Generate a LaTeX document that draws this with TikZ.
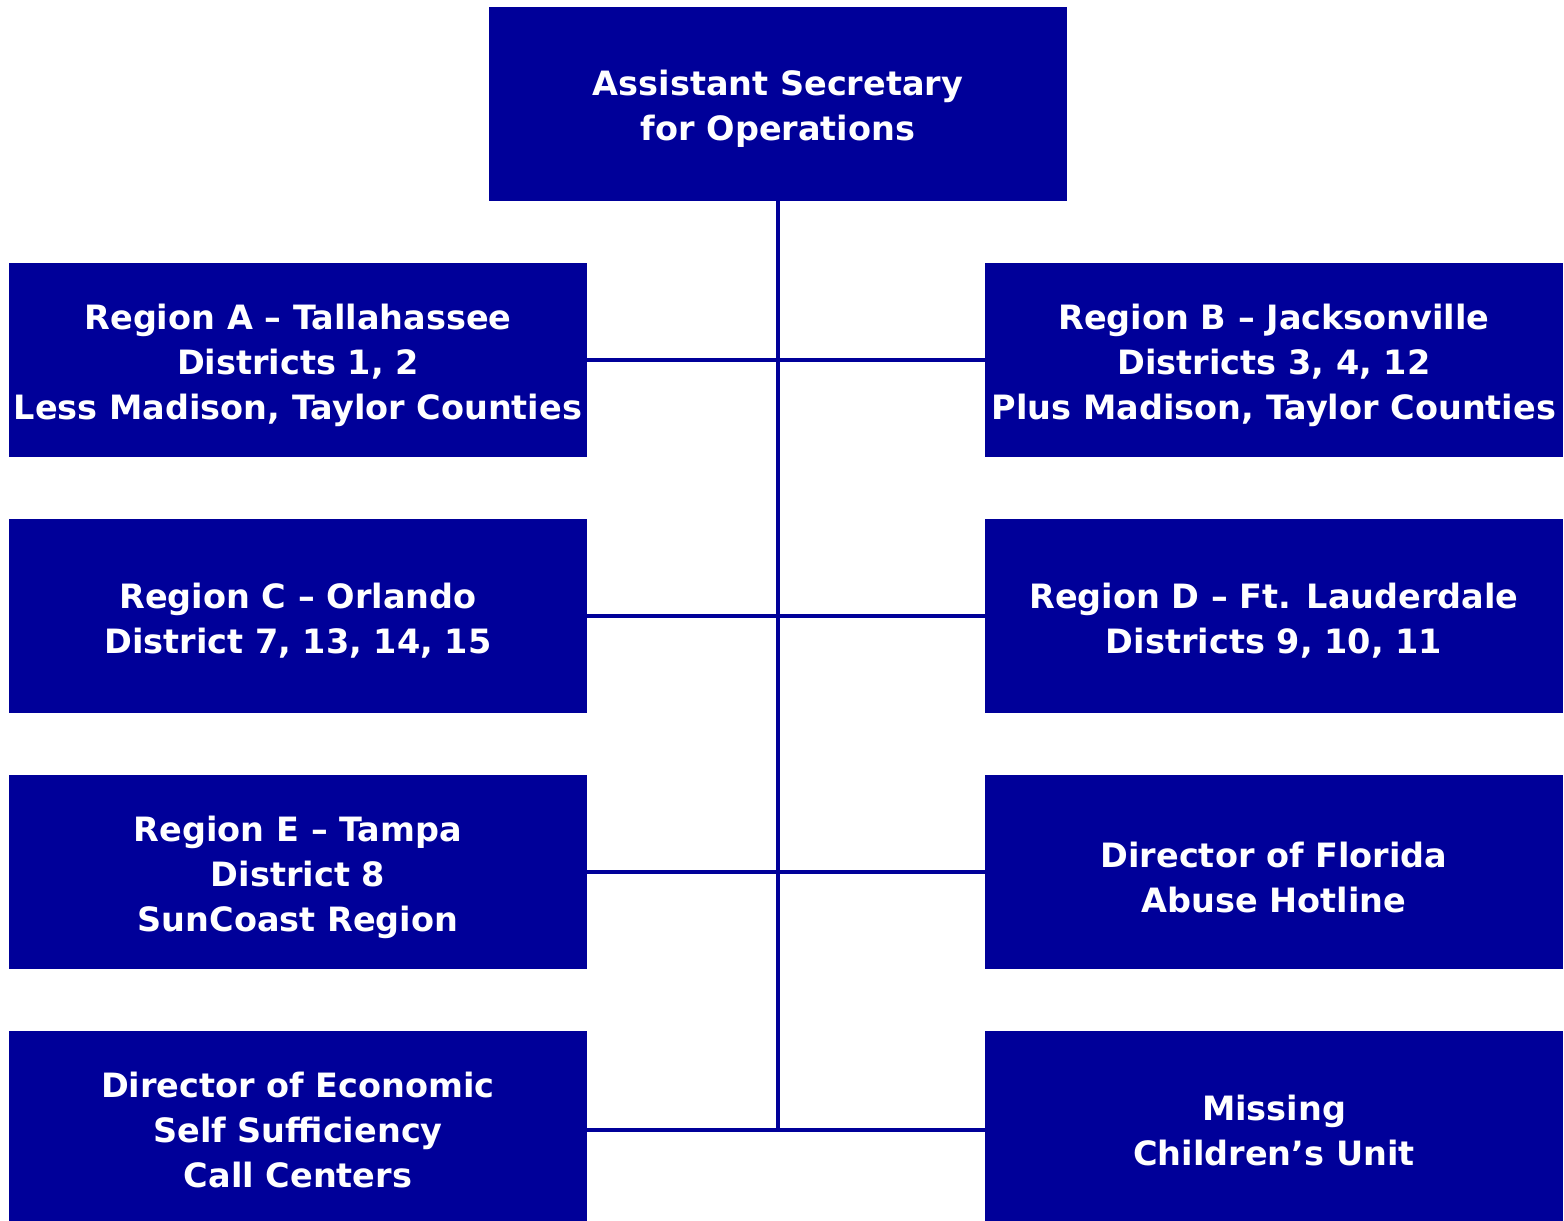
\documentclass[tikz,border=0pt]{standalone}
\usepackage{fontspec}
\setmainfont{DejaVu Sans}
\definecolor{navy}{RGB}{0,0,153}
\begin{document}
\begin{tikzpicture}[x=1pt,y=-1pt,
  box/.style={fill=navy,inner sep=0pt,
    minimum width=578pt,minimum height=194pt},
  txt/.style={text=white,align=center,inner sep=0pt,yshift=-5pt,
    font=\fontsize{33.5}{45}\selectfont\bfseries},
  conn/.style={draw=navy,line width=3.5pt}]
\clip (0,0) rectangle (1564,1221);
\useasboundingbox (0,0) rectangle (1564,1221);
\node[box,label={[txt]center:Assistant Secretary\\for Operations}] (top) at (778,104) {};
\node[box,label={[txt]center:Region A -- Tallahassee\\Districts 1, 2\\Less Madison, Taylor Counties}] (a) at (298,360) {};
\node[box,label={[txt]center:Region B -- Jacksonville\\Districts 3, 4, 12\\Plus Madison, Taylor Counties}] (b) at (1274,360) {};
\node[box,label={[txt]center:Region C -- Orlando\\District 7, 13, 14, 15}] (c) at (298,616) {};
\node[box,label={[txt]center:Region D -- Ft. Lauderdale\\Districts 9, 10, 11}] (d) at (1274,616) {};
\node[box,label={[txt]center:Region E -- Tampa\\District 8\\SunCoast Region}] (e) at (298,872) {};
\node[box,label={[txt]center:Director of Florida\\Abuse Hotline}] (f) at (1274,872) {};
\node[box,minimum height=198pt,label={[txt,yshift=5pt]center:Director of Economic\\Self Sufficiency\\Call Centers}] (g) at (298,1130) {};
\node[box,minimum height=198pt,label={[txt,yshift=5pt]center:Missing\\Children’s Unit}] (h) at (1274,1130) {};
\coordinate (j) at (top.south |- g.east);
\draw[conn] (top.south) -- (j);
\draw[conn] (a.east) -- (b.west);
\draw[conn] (c.east) -- (d.west);
\draw[conn] (e.east) -- (f.west);
\draw[conn] (g.east) -- (h.west);
\end{tikzpicture}
\end{document}
